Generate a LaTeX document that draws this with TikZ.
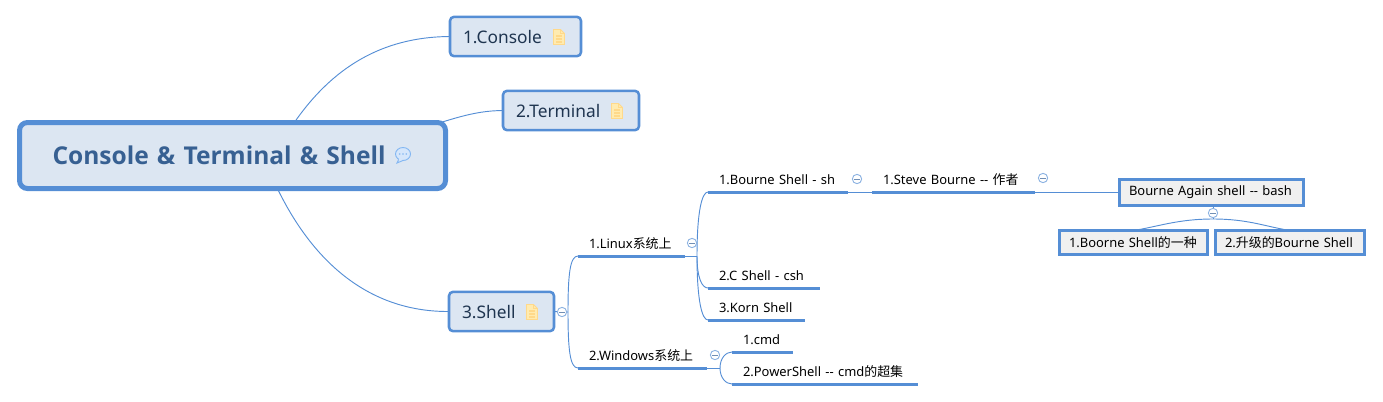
\documentclass[tikz,border=0pt]{standalone}
\usepackage{fontspec}
\setmainfont{Noto Sans}
\newfontfamily\cjk{Noto Sans CJK SC}
\newfontfamily\rootfont{Open Sans}
\usetikzlibrary{backgrounds}
\definecolor{mapblue}{HTML}{558ED5}
\definecolor{mapfill}{HTML}{DCE6F2}
\definecolor{roottext}{HTML}{376092}
\definecolor{boxtext}{HTML}{1F3550}
\definecolor{ringblue}{HTML}{8DB3E2}
\definecolor{notefill}{HTML}{FFEBB0}
\definecolor{noteline}{HTML}{FFD98A}
\definecolor{tipfill}{HTML}{D5E6FB}
\definecolor{tipline}{HTML}{84B7F2}
\tikzset{
  rootbox/.style={draw=mapblue,fill=mapfill,line width=3.75pt,rounded corners=6pt,inner sep=0pt,outer sep=0pt,align=left,text=roottext,text height=15.6pt,text depth=2.6pt,font=\rootfont\bfseries\fontsize{18.4}{20}\selectfont},
  mainbox/.style={draw=mapblue,fill=mapfill,line width=1.9pt,rounded corners=3pt,inner sep=0pt,outer sep=0pt,align=left,text=boxtext,text height=11pt,text depth=0.8pt,font=\fontsize{13}{16}\selectfont,minimum height=29.5pt},
  squarebox/.style={draw=mapblue,fill=black!6,line width=2.25pt,inner sep=0pt,outer sep=0pt,align=left,text=black,font=\fontsize{9.7}{12}\selectfont},
  topic/.style={anchor=south west,inner xsep=8.25pt,inner ysep=0pt,outer sep=0pt,align=left,text height=8pt,text depth=6pt,text=black,font=\fontsize{9.7}{12}\selectfont},
  rule/.style={draw=mapblue,line width=2.25pt},
  link/.style={draw=mapblue,line width=0.7pt},
  collapse/.style={circle,draw=ringblue,fill=white,line width=0.7pt,minimum size=7pt,inner sep=0pt,outer sep=0pt,
    path picture={\draw[ringblue!80!black,line width=0.6pt] ([xshift=-2pt]path picture bounding box.center) -- ([xshift=2pt]path picture bounding box.center);}},
}
\newcommand{\noteicon}[2]{%
  \begin{scope}[shift={(#1,#2)}]
    \filldraw[fill=notefill,draw=noteline,line width=0.6pt] (-5.5,-7.5) -- (1.5,-7.5) -- (5.5,-3.5) -- (5.5,7.5) -- (-5.5,7.5) -- cycle;
    \draw[noteline,line width=0.9pt] (-3,-1) -- (3,-1) (-3,2) -- (3,2) (-3,5) -- (3,5);
    \draw[noteline,line width=0.6pt] (1.5,-7.5) -- (1.5,-3.5) -- (5.5,-3.5);
  \end{scope}}
\begin{document}
\begin{tikzpicture}[x=0.75pt,y=-0.75pt]
\useasboundingbox (0,0) rectangle (1383,401);
% boxes
\node[rootbox,minimum width=319.5pt,minimum height=49.5pt,text width=270pt] (root) at (232.5,155.5) {Console \& Terminal \& Shell};
\node[mainbox,minimum width=98.25pt,text width=78.75pt] (console) at (515.5,36.5) {1.Console};
\node[mainbox,minimum width=102pt,text width=82.5pt] (terminal) at (571,110.5) {2.Terminal};
\node[mainbox,minimum width=78.75pt,text width=59.25pt] (shell) at (501.5,311.5) {3.Shell};
% topics
\node[topic,text width=63.75pt] (linux) at (578,256) {1.Linux{\cjk 系统上}};
\node[topic,text width=80.25pt] (windows) at (578,368) {2.Windows{\cjk 系统上}};
\node[topic,text width=88.5pt] (sh) at (708,192) {1.Bourne Shell - sh};
\node[topic,text width=67.5pt] (csh) at (708,288) {2.C Shell - csh};
\node[topic,text width=56.25pt] (korn) at (708,320) {3.Korn Shell};
\node[topic,text width=29.25pt] (cmd) at (732,352) {1.cmd};
\node[topic,text width=123pt] (ps) at (732,384) {2.PowerShell -{}- cmd{\cjk 的超集}};
\node[topic,text width=105.75pt] (steve) at (872,192) {1.Steve Bourne -{}- {\cjk 作者}};
\node[squarebox,minimum width=138pt,minimum height=19.5pt,text width=123.75pt] (bash) at (1211.5,192) {Bourne Again shell -{}- bash};
\node[squarebox,minimum width=111pt,minimum height=18pt,text width=96.75pt] (boorne) at (1133.5,242.5) {1.Boorne Shell{\cjk 的一种}};
\node[squarebox,minimum width=111.75pt,minimum height=18pt,text width=97.5pt] (upgrade) at (1290,242.5) {2.{\cjk 升级的}Bourne Shell};
% hubs
\coordinate (rootupper) at (280,145);
\coordinate (rootright) at (232,155);
\coordinate (rootlower) at (265,160);
\coordinate (shellhub) at (568,312);
\coordinate (linuxhub) at (697,256);
\coordinate (winhub) at (720,368);
\coordinate (bashhub) at (1213,219);
\begin{pgfonlayer}{background}
  \draw[link] (rootupper) .. controls (315,85) and (365,37) .. (console.west);
  \draw[link] (rootright) .. controls (420,148) and (440,111) .. (terminal.west);
  \draw[link] (rootlower) .. controls (300,250) and (360,312) .. (shell.west);
  \draw[link] (shell.east) -- (shellhub);
  \draw[link] (shellhub) .. controls +(0,-38) and +(-8,0) .. (linux.south west);
  \draw[link] (shellhub) .. controls +(0,38) and +(-8,0) .. (windows.south west);
  \draw[link] (linux.south east) -- (linuxhub);
  \draw[link] (linuxhub) .. controls +(0,-45) and +(-6,0) .. (sh.south west);
  \draw[link] (linuxhub) .. controls +(0,22) and +(-6,0) .. (csh.south west);
  \draw[link] (linuxhub) .. controls +(0,45) and +(-6,0) .. (korn.south west);
  \draw[link] (windows.south east) -- (winhub);
  \draw[link] (winhub) .. controls +(0,-10) and +(-6,0) .. (cmd.south west);
  \draw[link] (winhub) .. controls +(0,10) and +(-6,0) .. (ps.south west);
  \draw[link] (sh.south east) -- (steve.south west);
  \draw[link] (steve.south east) -- (bash.west);
  \draw[link] (bash.south -| bashhub) -- (bashhub);
  \draw[link] (bashhub) .. controls +(-35,0) and +(25,-4) .. (boorne.north);
  \draw[link] (bashhub) .. controls +(35,0) and +(-25,-4) .. (upgrade.north);
\end{pgfonlayer}
% underlines
\foreach \t in {linux,windows,sh,csh,korn,cmd,ps,steve}
  \draw[rule] (\t.south west) -- (\t.south east);
% collapse marks
\node[collapse] (m1) at (562,312) {};
\node[collapse] (m2) at (692,243) {};
\node[collapse] (m3) at (715,355) {};
\node[collapse] (m4) at (857,179) {};
\node[collapse] (m5) at (1043,178) {};
\node[collapse] (m6) at (1213,213) {};
% icons
\noteicon{559}{37}
\noteicon{617}{111}
\noteicon{532}{312}
\begin{scope}[shift={(403,154)}]
  \filldraw[fill=tipfill,draw=tipline,line width=0.7pt] (0,0) ellipse (7.5 and 6.5);
  \filldraw[fill=tipfill,draw=tipline,line width=0.7pt] (-4,5) -- (-6,9) -- (0,6.5);
  \fill[tipfill] (-3.5,4) -- (-4.5,6.5) -- (0,5.5) -- (0,3) -- cycle;
  \fill[tipline] (-3.2,0) circle (0.9) (0,0) circle (0.9) (3.2,0) circle (0.9);
\end{scope}
\end{tikzpicture}
\end{document}
